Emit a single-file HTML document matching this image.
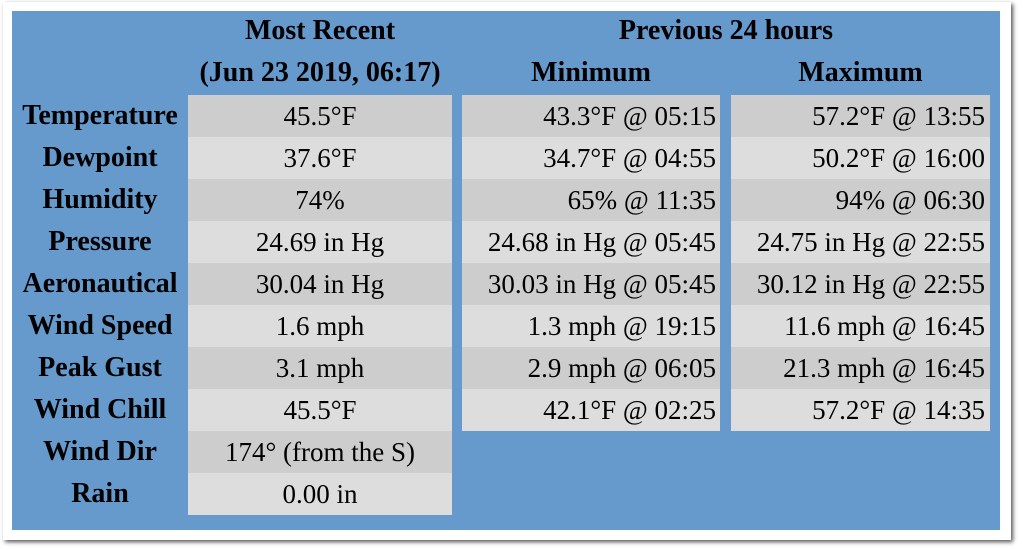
<!DOCTYPE html>
<html><head><style>
body{margin:0;width:1024px;height:550px;background:#fff;position:relative;overflow:hidden;font-family:"Liberation Serif","Times New Roman",Times,"Noto Serif CJK SC",serif;}
.frame{position:absolute;left:3px;top:2px;width:1008px;height:538px;background:#fff;box-shadow:2px 2px 4px #555;}
.panel{position:absolute;left:12px;top:11px;width:988px;height:519px;background:#6699cc;}
.t{position:absolute;font-size:28px;line-height:42px;color:#000;white-space:nowrap;font-family:"Liberation Serif","Times New Roman",Times,serif;}
.h{font-weight:bold;text-align:center;}
.c{position:absolute;height:42px;font-size:27px;line-height:42px;white-space:nowrap;box-sizing:border-box;font-family:"Liberation Serif","Times New Roman",Times,serif;}
.d{background:#cdcdcd}.l{background:#dddddd}
</style></head><body>
<div class="frame"></div>
<div class="panel"></div>
<div class="t h" style="left:188px;width:264px;top:10px">Most Recent</div>
<div class="t h" style="left:172px;width:296px;top:52px">(Jun 23 2019, 06:17)</div>
<div class="t h" style="left:462px;width:528px;top:10px">Previous 24 hours</div>
<div class="t h" style="left:462px;width:258px;top:52px">Minimum</div>
<div class="t h" style="left:731px;width:259px;top:52px">Maximum</div>
<div id="rows"></div>
<script>
var L=["Temperature","Dewpoint","Humidity","Pressure","Aeronautical","Wind Speed","Peak Gust","Wind Chill","Wind Dir","Rain"];
var R=["45.5°F","37.6°F","74%","24.69 in Hg","30.04 in Hg","1.6 mph","3.1 mph","45.5°F","174° (from the S)","0.00 in"];
var MN=["43.3°F @ 05:15","34.7°F @ 04:55","65% @ 11:35","24.68 in Hg @ 05:45","30.03 in Hg @ 05:45","1.3 mph @ 19:15","2.9 mph @ 06:05","42.1°F @ 02:25"];
var MX=["57.2°F @ 13:55","50.2°F @ 16:00","94% @ 06:30","24.75 in Hg @ 22:55","30.12 in Hg @ 22:55","11.6 mph @ 16:45","21.3 mph @ 16:45","57.2°F @ 14:35"];
var h="";
for(var i=0;i<10;i++){var y=95+i*42,cl=i%2?"l":"d";
h+='<div class="t h" style="left:12px;width:176px;top:'+y+'px">'+L[i]+'</div>';
h+='<div class="c '+cl+'" style="left:188px;width:264px;top:'+y+'px;text-align:center">'+R[i]+'</div>';
if(i<8){h+='<div class="c '+cl+'" style="left:462px;width:258px;top:'+y+'px;text-align:right;padding-right:4px">'+MN[i]+'</div>';
h+='<div class="c '+cl+'" style="left:731px;width:259px;top:'+y+'px;text-align:right;padding-right:5px">'+MX[i]+'</div>';}}
document.getElementById("rows").innerHTML=h;
</script>
</body></html>
